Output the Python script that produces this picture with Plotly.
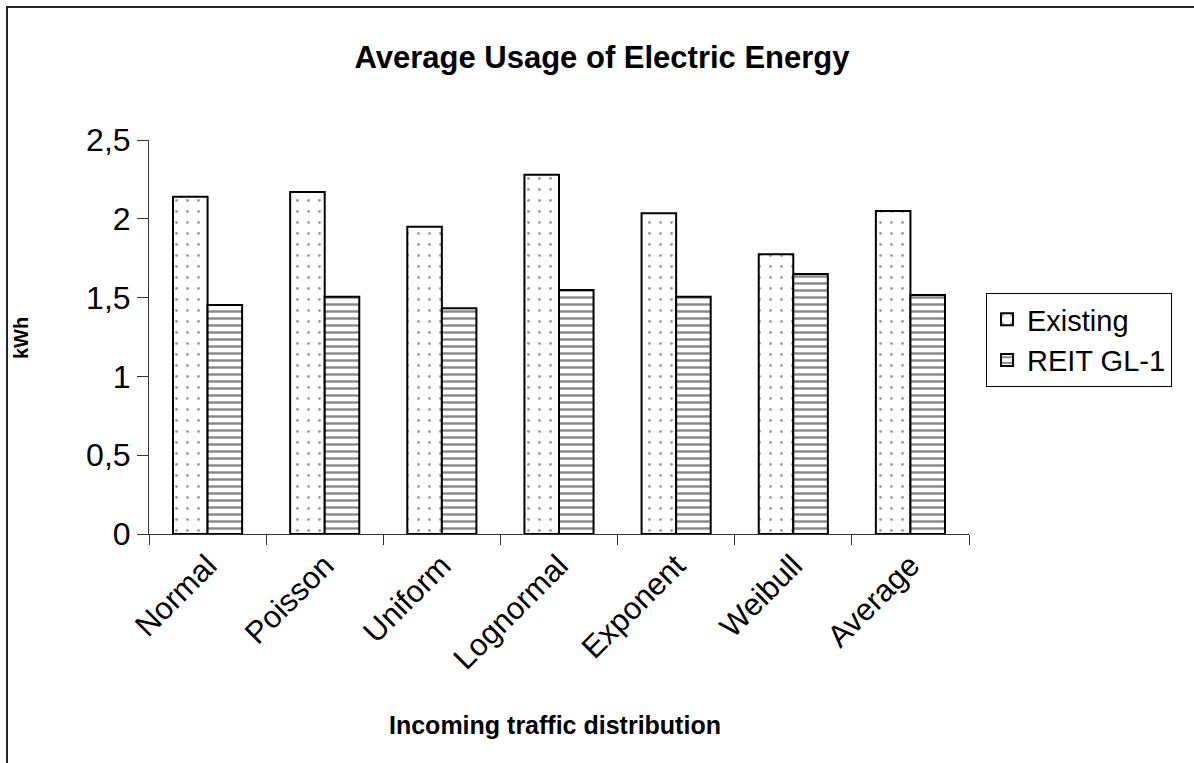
import plotly.graph_objects as go

categories = ["Normal", "Poisson", "Uniform", "Lognormal", "Exponent", "Weibull", "Average"]
existing = [2.14, 2.17, 1.95, 2.28, 2.035, 1.775, 2.05]
reit = [1.453, 1.506, 1.432, 1.548, 1.506, 1.65, 1.517]
y_tickvals = [0, 0.5, 1, 1.5, 2, 2.5]
y_ticktext = ["0", "0,5", "1", "1,5", "2", "2,5"]

FONT = "Arial, Liberation Sans, sans-serif"
W, H = 1194, 763
L, R, T, B = 149, 969, 140, 534


def px_x(p):
    return (p - L) / (R - L)


def px_y(p):
    return (B - p) / (B - T)


fig = go.Figure()
fig.add_trace(go.Bar(
    x=categories, y=existing, name="Existing",
    marker=dict(color="white", line=dict(color="black", width=2),
                pattern=dict(shape=".", size=11, solidity=0.05, fgcolor="#333333", bgcolor="white")),
))
fig.add_trace(go.Bar(
    x=categories, y=reit, name="REIT GL-1",
    marker=dict(color="white", line=dict(color="black", width=2),
                pattern=dict(shape="-", size=7, solidity=0.35, fgcolor="#111111", bgcolor="white")),
))

fig.update_layout(
    width=W, height=H,
    margin=dict(l=L, r=W - R, t=T, b=H - B, autoexpand=False),
    paper_bgcolor="white", plot_bgcolor="white",
    barmode="group", bargap=0.41, bargroupgap=0,
    font=dict(family=FONT, color="black"),
    title=dict(text="<b>Average Usage of Electric Energy</b>", x=602 / W, xanchor="center",
               y=1 - 57 / H, yanchor="middle", font=dict(size=31, family=FONT, color="black")),
    legend=dict(x=px_x(986), y=px_y(293), xanchor="left", yanchor="top",
                bordercolor="black", borderwidth=1, bgcolor="white",
                font=dict(size=29, family=FONT), tracegroupgap=0, itemwidth=30),
    showlegend=True,
)
fig.update_xaxes(
    showline=True, linecolor="#333333", linewidth=1, mirror=False,
    ticks="outside", ticklen=10, tickcolor="#333333", tickson="boundaries",
    tickangle=-45, tickfont=dict(size=31, family=FONT, color="black"),
    showgrid=False, zeroline=False,
)
fig.update_yaxes(
    range=[0, 2.5], tickvals=y_tickvals, ticktext=y_ticktext,
    showline=True, linecolor="#333333", linewidth=1,
    ticks="outside", ticklen=11, tickcolor="#333333",
    tickfont=dict(size=32, family=FONT, color="black"),
    showgrid=False, zeroline=False,
)

fig.add_annotation(text="<b>Incoming traffic distribution</b>", xref="paper", yref="paper",
                   x=px_x(555), y=px_y(725), xanchor="center", yanchor="middle",
                   showarrow=False, font=dict(size=25, family=FONT, color="black"))
fig.add_annotation(text="<b>kWh</b>", xref="paper", yref="paper",
                   x=px_x(21), y=px_y(338), xanchor="center", yanchor="middle", textangle=-90,
                   showarrow=False, font=dict(size=20, family=FONT, color="black"))

fig.add_shape(type="rect", xref="paper", yref="paper",
              x0=px_x(7), x1=px_x(1300), y0=px_y(900), y1=px_y(7),
              line=dict(color="#222222", width=2), fillcolor="rgba(0,0,0,0)", layer="below")

fig.write_html("out.html", config={"displayModeBar": False},
               post_script="document.body.style.margin='0';document.body.style.overflow='hidden';")
